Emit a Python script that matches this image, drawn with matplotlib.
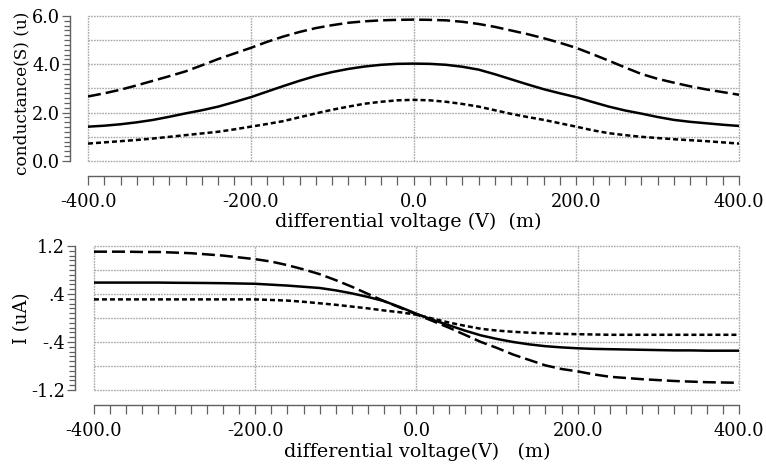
import matplotlib
matplotlib.use("Agg")
import matplotlib.pyplot as plt
from matplotlib.ticker import MultipleLocator

# differential voltage (mV), every 20 mV
vd = list(range(-400, 401, 20))

# conductance (uS)
g_dash = [2.67, 2.80, 2.95, 3.13, 3.32, 3.51, 3.71, 3.96, 4.22, 4.45, 4.68,
          4.93, 5.15, 5.34, 5.50, 5.62, 5.72, 5.78, 5.82, 5.84, 5.85,
          5.84, 5.82, 5.76, 5.67, 5.55, 5.40, 5.25, 5.08, 4.89, 4.68,
          4.42, 4.15, 3.87, 3.60, 3.40, 3.24, 3.09, 2.96, 2.85, 2.74]
g_solid = [1.42, 1.46, 1.52, 1.60, 1.70, 1.83, 1.97, 2.10, 2.25, 2.44, 2.64,
           2.87, 3.10, 3.32, 3.52, 3.68, 3.81, 3.91, 3.98, 4.02, 4.03,
           4.02, 3.98, 3.90, 3.78, 3.59, 3.38, 3.17, 2.97, 2.80, 2.64,
           2.44, 2.25, 2.09, 1.96, 1.82, 1.70, 1.62, 1.56, 1.50, 1.45]
g_dot = [0.72, 0.77, 0.82, 0.87, 0.93, 1.00, 1.07, 1.14, 1.21, 1.31, 1.42,
         1.53, 1.65, 1.81, 1.97, 2.12, 2.25, 2.37, 2.45, 2.51, 2.53,
         2.51, 2.45, 2.36, 2.25, 2.10, 1.95, 1.82, 1.70, 1.56, 1.42,
         1.27, 1.15, 1.07, 1.00, 0.95, 0.90, 0.86, 0.82, 0.77, 0.72]

# current (uA)
i_dash = [1.105, 1.105, 1.105, 1.10, 1.10, 1.09, 1.08, 1.06, 1.04, 1.01, 0.98,
          0.94, 0.88, 0.81, 0.73, 0.63, 0.52, 0.40, 0.28, 0.17, 0.06,
          -0.05, -0.16, -0.28, -0.40, -0.50, -0.61, -0.70, -0.79, -0.85, -0.89,
          -0.94, -0.98, -1.00, -1.02, -1.035, -1.05, -1.06, -1.07, -1.075, -1.08]
i_solid = [0.59, 0.59, 0.59, 0.59, 0.59, 0.587, 0.585, 0.583, 0.58, 0.575, 0.57,
           0.555, 0.54, 0.52, 0.50, 0.46, 0.41, 0.35, 0.28, 0.18, 0.07,
           -0.03, -0.12, -0.21, -0.29, -0.35, -0.40, -0.44, -0.47, -0.49, -0.505,
           -0.515, -0.52, -0.525, -0.53, -0.535, -0.54, -0.54, -0.545, -0.545, -0.545]
i_dot = [0.31, 0.31, 0.31, 0.31, 0.31, 0.31, 0.31, 0.31, 0.31, 0.31, 0.31,
         0.30, 0.29, 0.27, 0.245, 0.22, 0.19, 0.16, 0.125, 0.095, 0.055,
         -0.01, -0.075, -0.13, -0.18, -0.21, -0.23, -0.245, -0.255, -0.265, -0.27,
         -0.275, -0.28, -0.28, -0.28, -0.28, -0.28, -0.28, -0.28, -0.28, -0.28]

x_ticks = [-400, -200, 0, 200, 400]
x_labels = ["-400.0", "-200.0", "0.0", "200.0", "400.0"]
g_ticks = [0, 2, 4, 6]
g_labels = ["0.0", "2.0", "4.0", "6.0"]
g_grid = [0, 1, 2, 3, 4, 5, 6]
i_ticks = [-1.2, -0.4, 0.4, 1.2]
i_labels = ["-1.2", "-.4", ".4", "1.2"]
i_grid = [-1.2, -0.8, -0.4, 0, 0.4, 0.8, 1.2]

plt.rcParams['font.family'] = ['DejaVu Serif']
FS = 12.8
AX_COLOR = '#606060'
GRID_COLOR = '#a8a8a8'


def style_axes(ax, yticks, ylabels, yminor, ygrid, y_out, x_out):
    for s in ['top', 'right']:
        ax.spines[s].set_visible(False)
    ax.spines['left'].set_position(('outward', y_out))
    ax.spines['bottom'].set_position(('outward', x_out))
    for s in ['left', 'bottom']:
        ax.spines[s].set_color(AX_COLOR)
        ax.spines[s].set_linewidth(1.0)
    ax.set_xlim(-400, 400)
    ax.set_xticks(x_ticks, x_labels)
    ax.xaxis.set_minor_locator(MultipleLocator(20))
    ax.set_yticks(yticks, ylabels)
    ax.yaxis.set_minor_locator(MultipleLocator(yminor))
    ax.tick_params(axis='x', which='both', direction='out', length=6.5,
                   width=0.9, color=AX_COLOR, labelsize=FS, pad=5.5)
    ax.tick_params(axis='y', which='major', direction='out', length=6,
                   width=0.9, color=AX_COLOR, labelsize=FS, pad=1)
    ax.tick_params(axis='y', which='minor', direction='out', length=4.5,
                   width=0.9, color=AX_COLOR)
    for v in ygrid:
        ax.axhline(v, color=GRID_COLOR, lw=1.0, ls=(0, (1.2, 0.8)),
                   zorder=0, clip_on=False)
    for v in x_ticks:
        ax.axvline(v, color=GRID_COLOR, lw=1.0, ls=(0, (1.2, 0.8)),
                   zorder=0, clip_on=False)


fig = plt.figure(figsize=(7.66, 4.65), dpi=100)
ax1 = fig.add_axes([0.1149, 0.6538, 0.8499, 0.3118])
ax2 = fig.add_axes([0.1227, 0.1613, 0.8420, 0.3097])

lw = 1.8
ax1.plot(vd, g_dash, color='black', lw=lw, dashes=(5.2, 2.0))
ax1.plot(vd, g_solid, color='black', lw=lw)
ax1.plot(vd, g_dot, color='black', lw=lw, dashes=(2.0, 1.2))
ax1.set_ylim(0, 6)
style_axes(ax1, g_ticks, g_labels, 0.2, g_grid, 13, 11)
ax1.set_xlabel("differential voltage (V)  (m)", fontsize=13.8)
ax1.xaxis.set_label_coords(0.4916, -0.421)
ax1.set_ylabel("conductance(S) (u)", fontsize=12.2)
ax1.yaxis.set_label_coords(-0.101, 0.469)

ax2.plot(vd, i_dash, color='black', lw=lw, dashes=(5.2, 2.0))
ax2.plot(vd, i_solid, color='black', lw=lw)
ax2.plot(vd, i_dot, color='black', lw=lw, dashes=(2.0, 1.2))
ax2.set_ylim(-1.2, 1.2)
style_axes(ax2, i_ticks, i_labels, 0.08, i_grid, 14, 11)
ax2.set_xlabel("differential voltage(V)   (m)", fontsize=13.8)
ax2.xaxis.set_label_coords(0.5008, -0.43)
ax2.set_ylabel("I (uA)", fontsize=13)
ax2.yaxis.set_label_coords(-0.112, 0.5)

for ax in (ax1, ax2):
    ax.xaxis.label.set_va('center')
    ax.yaxis.label.set_va('center')

fig.savefig("out.png", dpi=100)
